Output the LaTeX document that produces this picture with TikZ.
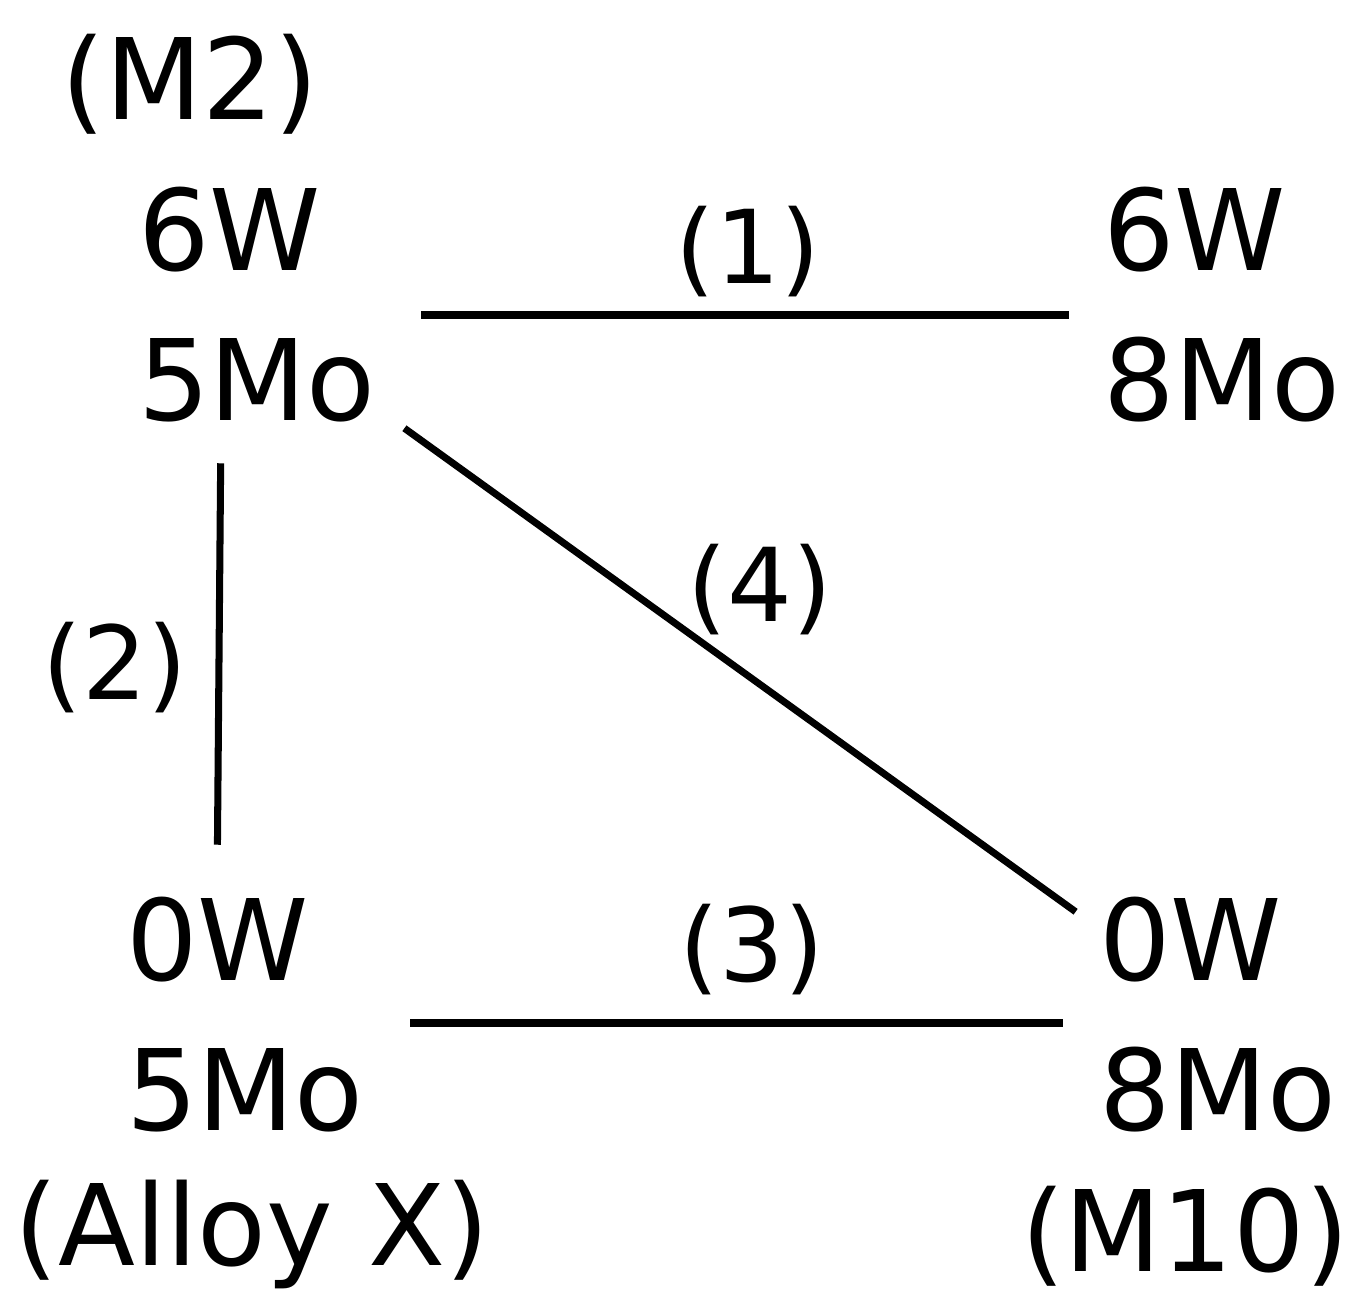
\documentclass[tikz,border=0pt]{standalone}
\usepackage{fontspec}
\setmainfont{DejaVu Sans}
\usepackage{tikz}

\begin{document}
\begin{tikzpicture}[
    blk/.style  = {align=left, inner sep=0pt,
                   font=\fontsize{32}{42.7}\selectfont},
    lbl/.style  = {inner sep=0pt, font=\fontsize{29}{35}\selectfont},
    alloy/.style = {inner sep=0pt, font=\fontsize{32}{38}\selectfont},
    ln/.style   = {line width=2pt}
]
\useasboundingbox (0,0) rectangle (13.72,13.04);
\node[blk] (tl) at (2.57, 9.99) {6W\\5Mo};
\node[blk] (tr) at (12.22,9.99) {6W\\8Mo};
\node[blk] (bl) at (2.45, 2.89) {0W\\5Mo};
\node[blk] (br) at (12.18,2.89) {0W\\8Mo};
\node[alloy] (m2)    at (1.90, 12.20) {(M2)};
\node[alloy] (alloyx) at (2.52, 0.70)  {(Alloy X)};
\node[alloy] (m10)   at (11.85,0.68)  {(M10)};
\node[lbl] (p1) at (7.48, 10.52) {(1)};
\node[lbl] (p2) at (1.15, 6.36)  {(2)};
\node[lbl] (p3) at (7.52, 3.54)  {(3)};
\node[lbl] (p4) at (7.60, 7.14)  {(4)};
\draw[ln, shorten <=0.45cm, shorten >=0.34cm] ([yshift=-0.1cm]tl.east) -- ([yshift=-0.1cm]tr.west);
\draw[ln, shorten <=0.4cm, shorten >=0.52cm] ([xshift=-0.36cm]tl.south) -- ([xshift=-0.28cm]bl.north);
\draw[ln, shorten <=0.46cm, shorten >=0.36cm] ([yshift=-0.08cm]bl.east) -- ([yshift=-0.08cm]br.west);
\draw[ln] ([xshift=0.28cm,yshift=-0.05cm]tl.south east) -- ([xshift=-0.23cm,yshift=-0.15cm]br.north west);
\end{tikzpicture}
\end{document}
